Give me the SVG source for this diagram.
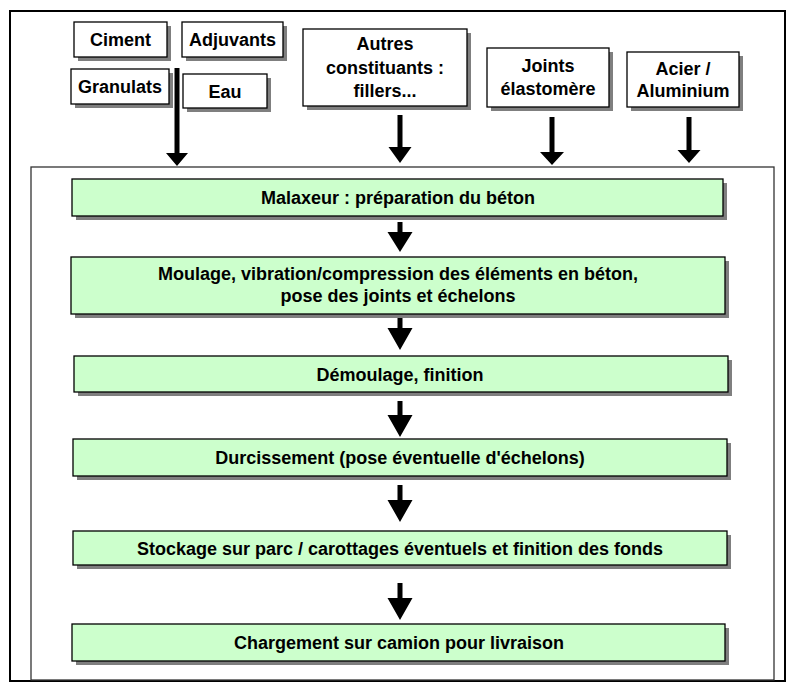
<svg xmlns="http://www.w3.org/2000/svg" width="786" height="682" viewBox="0 0 786 682">
<defs>
<style>
text{font-family:"Liberation Sans",Arial,sans-serif;font-weight:bold;font-size:18px;fill:#000;text-anchor:middle}
.in{fill:#fff;stroke:#000;stroke-width:1.3}
.st{fill:#ccffcc;stroke:#000;stroke-width:1.3}
.sh{fill:#7f7f7f}
.arr{fill:#000}
</style>
</defs>
<rect x="0" y="0" width="786" height="682" fill="#fff"/>
<rect id="frame" x="10" y="11" width="775" height="670" fill="none" stroke="#000" stroke-width="2"/>
<rect id="plant" x="31" y="167" width="743" height="513" fill="#fff" stroke="#333" stroke-width="1.3"/>

<g id="ciment"><rect class="sh" x="78" y="26" width="93" height="35"/><rect class="in" x="74" y="22" width="93" height="35"/><text x="120.5" y="46">Ciment</text></g>
<g id="adjuvants"><rect class="sh" x="186" y="26" width="101" height="35"/><rect class="in" x="182" y="22" width="101" height="35"/><text x="232.5" y="46">Adjuvants</text></g>
<g id="granulats"><rect class="sh" x="75" y="73" width="98" height="35"/><rect class="in" x="71" y="69" width="98" height="35"/><text x="120" y="93">Granulats</text></g>
<g id="eau"><rect class="sh" x="187" y="78" width="84" height="34"/><rect class="in" x="183" y="74" width="84" height="34"/><text x="225" y="98">Eau</text></g>
<g id="autres"><rect class="sh" x="307" y="33" width="164" height="77"/><rect class="in" x="303" y="29" width="164" height="77"/><text x="385" y="50">Autres</text><text x="385" y="74">constituants :</text><text x="385" y="97">fillers...</text></g>
<g id="joints"><rect class="sh" x="491" y="52" width="122" height="59"/><rect class="in" x="487" y="48" width="122" height="59"/><text x="548" y="72">Joints</text><text x="548" y="95">élastomère</text></g>
<g id="acier"><rect class="sh" x="631" y="56" width="112" height="55"/><rect class="in" x="627" y="52" width="112" height="55"/><text x="683" y="75">Acier /</text><text x="683" y="97">Aluminium</text></g>

<g id="malaxeur"><rect class="sh" x="76" y="183" width="651" height="37"/><rect class="st" x="72" y="179" width="651" height="37"/><text x="398" y="204">Malaxeur : préparation du béton</text></g>
<g id="moulage"><rect class="sh" x="75" y="261" width="654" height="57"/><rect class="st" x="71" y="257" width="654" height="57"/><text x="398" y="280">Moulage, vibration/compression des éléments en béton,</text><text x="398" y="302">pose des joints et échelons</text></g>
<g id="demoulage"><rect class="sh" x="78" y="360" width="654" height="36"/><rect class="st" x="74" y="356" width="654" height="36"/><text x="400" y="381">Démoulage, finition</text></g>
<g id="durcissement"><rect class="sh" x="77" y="443" width="654" height="37"/><rect class="st" x="73" y="439" width="654" height="37"/><text x="400" y="464">Durcissement (pose éventuelle d'échelons)</text></g>
<g id="stockage"><rect class="sh" x="77" y="535" width="654" height="34"/><rect class="st" x="73" y="531" width="654" height="34"/><text x="400" y="555">Stockage sur parc / carottages éventuels et finition des fonds</text></g>
<g id="chargement"><rect class="sh" x="76" y="628" width="653" height="37"/><rect class="st" x="72" y="624" width="653" height="37"/><text x="399" y="649">Chargement sur camion pour livraison</text></g>

<g id="connectors">
<path class="arr" d="M174.5 68h5v85h8.5l-11 13l-11 -13h8.5z"/>
<path class="arr" d="M397.5 115h5v32h9l-11.5 16l-11.5 -16h9z"/>
<path class="arr" d="M549.5 117h5v35h9.5l-12 13l-12 -13h9.5z"/>
<path class="arr" d="M686.5 117h5v33h9l-11.5 13l-11.5 -13h9z"/>
<path class="arr" d="M397.5 222h5v10h10l-12.5 20l-12.5 -20h10z"/>
<path class="arr" d="M397.5 318h5v10h10l-12.5 22l-12.5 -22h10z"/>
<path class="arr" d="M397.5 401h5v14h10l-12.5 22l-12.5 -22h10z"/>
<path class="arr" d="M397.5 485h5v15h10l-12.5 22l-12.5 -22h10z"/>
<path class="arr" d="M397.5 583h5v15h10l-12.5 22l-12.5 -22h10z"/>
</g>
</svg>
